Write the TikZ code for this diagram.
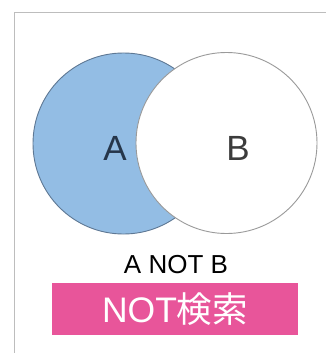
\documentclass[tikz,border=0pt]{standalone}
\usepackage{fontspec}
\setmainfont{Liberation Sans}
\newfontfamily\cjk{Noto Sans CJK JP}
\definecolor{fillA}{HTML}{93BDE4}
\definecolor{edgeA}{HTML}{5E7894}
\definecolor{edgeB}{HTML}{9A9A9A}
\definecolor{pinkbox}{HTML}{E8559A}
\definecolor{framegray}{HTML}{BDBDBD}
\definecolor{labA}{HTML}{26364A}
\definecolor{labB}{HTML}{3C3C3C}
\begin{document}
\begin{tikzpicture}[x=1pt,y=-1pt,
  venn/.style={circle,minimum size=181pt,inner sep=0pt,line width=0.9pt},
  lab/.style={font=\fontsize{35}{35}\selectfont,inner sep=0pt}]
\useasboundingbox (0,0) rectangle (326,353);
\fill[white] (0,0) rectangle (326,353);
\draw[framegray,line width=1pt] (14,353) -- (14,13) -- (326,13);
\node[venn,draw=edgeA,fill=fillA] (A) at (123.5,143.5) {};
\node[venn,draw=edgeB,fill=white] (B) at (226.5,143) {};
\node[lab,text=labA] (la) at (115,148) {A};
\node[lab,text=labB] (lb) at (238,148) {B};
\node[font=\fontsize{26}{26}\selectfont,inner sep=0pt] (t) at (176,265) {A NOT B};
\node[fill=pinkbox,minimum width=246pt,minimum height=52pt,inner sep=0pt,
  text=white,font=\fontsize{35.5}{35.5}\selectfont] (box) at (175,309)
  {NOT{\cjk 検索}};
\end{tikzpicture}
\end{document}
